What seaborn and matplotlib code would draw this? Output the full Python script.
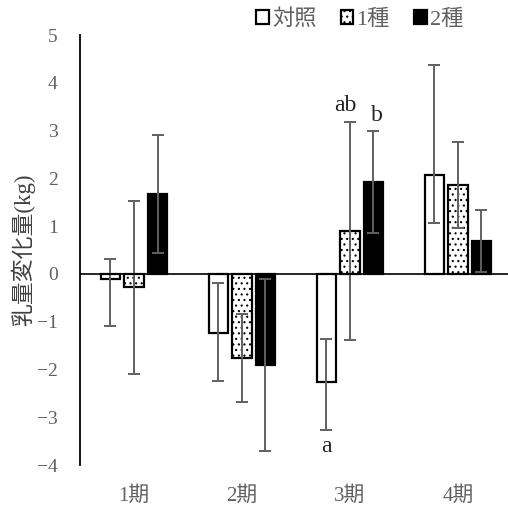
import numpy as np
import pandas as pd
import matplotlib
matplotlib.use("Agg")
import matplotlib.pyplot as plt
from matplotlib.patches import Patch
import seaborn as sns

# datos
periodos = ["1期", "2期", "3期", "4期"]
grupos = ["対照", "1種", "2種"]
control = [-0.10, -1.23, -2.27, 2.06]
tipo1 = [-0.28, -1.76, 0.89, 1.86]
tipo2 = [1.67, -1.90, 1.92, 0.69]
# barras de error (inferior, superior)
err_inf_control = [1.00, 1.01, 0.99, 0.99]
err_sup_control = [0.41, 1.03, 0.90, 2.32]
err_tipo1 = [1.81, 0.93, 2.28, 0.90]
err_tipo2 = [1.23, 1.80, 1.07, 0.64]
letras = [("ab", 2, 1), ("b", 2, 2), ("a", 2, 0)]

sns.set_style("white")
plt.rcParams["font.family"] = ["Liberation Serif", "Noto Sans CJK JP"]
plt.rcParams["hatch.linewidth"] = 0.8

df = pd.DataFrame({
    "periodo": periodos * 3,
    "grupo": np.repeat(grupos, 4),
    "valor": control + tipo1 + tipo2,
})

fig = plt.figure(figsize=(5.08, 5.11), dpi=100)
ax = fig.add_axes([0.1575, 0.090, 0.850, 0.8415])

sns.barplot(data=df, x="periodo", y="valor", hue="grupo", order=periodos,
            hue_order=grupos, palette=["white", "white", "black"],
            edgecolor="black", linewidth=1.6, width=0.654, gap=0.17,
            errorbar=None, legend=False, ax=ax)

barras = list(ax.containers)
for bar in barras[1]:
    bar.set_hatch("...")

errores = [
    (err_inf_control, err_sup_control),
    (err_tipo1, err_tipo1),
    (err_tipo2, err_tipo2),
]
valores = [control, tipo1, tipo2]
posiciones = {}
for k, cont in enumerate(barras):
    xs = [b.get_x() + b.get_width() / 2 for b in cont]
    posiciones[k] = xs
    ax.errorbar(xs, valores[k], yerr=[errores[k][0], errores[k][1]], fmt="none",
                ecolor="#606060", elinewidth=1.4, capsize=4, capthick=1.4, zorder=5)

for texto, i, k in letras:
    x = posiciones[k][i]
    if texto == "a":
        ax.text(x, -3.4, texto, ha="center", va="top", fontsize=17, color="#222222")
    elif texto == "ab":
        ax.text(x - 0.04, 3.3, texto, ha="center", va="bottom", fontsize=17, color="#222222")
    else:
        ax.text(x + 0.03, 3.1, texto, ha="center", va="bottom", fontsize=17, color="#222222")

ax.axhline(0, color="black", lw=1.2, zorder=6)
ax.set_ylim(-4, 5)
ax.set_xlim(-0.5, 3.5)
ax.set_yticks(range(-4, 6))
ax.set_yticklabels([str(v).replace("-", "−") for v in range(-4, 6)])
ax.tick_params(axis="both", length=0, colors="#606060")
ax.tick_params(axis="y", labelsize=14, pad=16)
ax.tick_params(axis="x", labelsize=15, pad=15)
ax.set_xlabel("")
ax.set_ylabel("乳量変化量(kg)", fontsize=16.5, color="#404040", labelpad=1)
for lado in ["top", "right", "bottom"]:
    ax.spines[lado].set_visible(False)
ax.spines["left"].set_color("black")
ax.spines["left"].set_linewidth(1.3)

handles = [
    Patch(facecolor="white", edgecolor="black", linewidth=1.6),
    Patch(facecolor="white", edgecolor="black", linewidth=1.6, hatch="..."),
    Patch(facecolor="black", edgecolor="black", linewidth=1.6),
]
leg = fig.legend(handles, grupos, loc="upper right", bbox_to_anchor=(0.925, 0.995),
                 ncol=3, frameon=False, fontsize=16, handlelength=0.55,
                 handleheight=0.55, handletextpad=0.15, columnspacing=1.1,
                 borderaxespad=0.1, borderpad=0.2)
for t in leg.get_texts():
    t.set_color("#606060")

fig.savefig("out.png", dpi=100)
